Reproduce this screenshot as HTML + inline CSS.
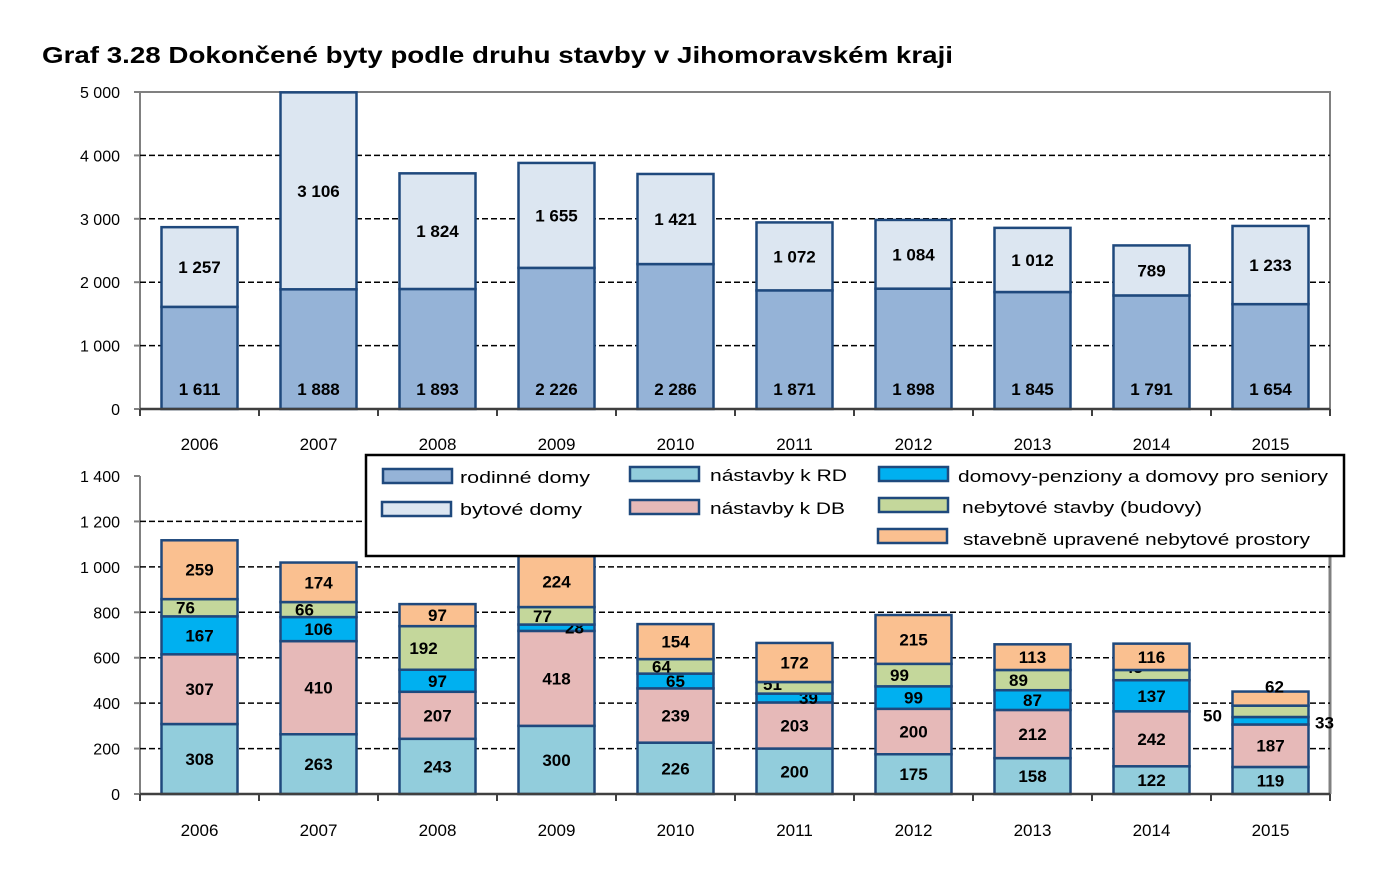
<!DOCTYPE html>
<html><head><meta charset="utf-8"><style>
body{margin:0;background:#fff;font-family:"Liberation Sans",Arial,sans-serif}
svg text{font-family:"Liberation Sans",Arial,sans-serif}
</style></head><body>
<svg id="s" width="1390" height="866" xmlns="http://www.w3.org/2000/svg">
<text x="42" y="63" font-size="23" font-weight="bold" textLength="911" lengthAdjust="spacingAndGlyphs">Graf 3.28 Dokončené byty podle druhu stavby v Jihomoravském kraji</text>
</svg>
<script>
var s=document.getElementById('s'),h='';
function T(x,y,t,o){h+='<text x="'+x+'" y="'+y+'" '+(o||'')+'>'+t+'</text>';}
function fmt(n){n=String(n);return n.length>3?n.slice(0,-3)+' '+n.slice(-3):n;}
var L=140,R=1330,cw=119,bw=76,yrs=[2006,2007,2008,2009,2010,2011,2012,2013,2014,2015];
var ST='stroke="#1f497d" stroke-width="2.5"';
var y0=409,k=317/5000;
h+='<rect x="'+L+'" y="92" width="'+(R-L)+'" height="317" fill="none" stroke="#808080" stroke-width="2"/>';
for(var v=1000;v<=4000;v+=1000){var y=y0-v*k;h+='<line x1="'+L+'" x2="'+R+'" y1="'+y+'" y2="'+y+'" stroke="#000" stroke-dasharray="6,3" stroke-width="1.5"/>';}
for(var v=0;v<=5000;v+=1000){var y=y0-v*k;T(120,y+6,fmt(v),'font-size="16" text-anchor="end"');h+='<line x1="'+(L-6)+'" x2="'+L+'" y1="'+y+'" y2="'+y+'" stroke="#808080" stroke-width="2"/>';}
var rd=[1611,1888,1893,2226,2286,1871,1898,1845,1791,1654],bd=[1257,3106,1824,1655,1421,1072,1084,1012,789,1233];
for(var i=0;i<10;i++){var cx=L+cw*i+cw/2,x=cx-bw/2;
var y1=y0-rd[i]*k,y2=y1-bd[i]*k;
h+='<rect x="'+x+'" y="'+y1+'" width="'+bw+'" height="'+(rd[i]*k)+'" fill="#95b3d7" '+ST+'/>';
h+='<rect x="'+x+'" y="'+y2+'" width="'+bw+'" height="'+(bd[i]*k)+'" fill="#dce6f1" '+ST+'/>';
T(cx,395,fmt(rd[i]),'font-size="17" font-weight="bold" text-anchor="middle"');
T(cx,(y1+y2)/2+6,fmt(bd[i]),'font-size="17" font-weight="bold" text-anchor="middle"');
T(cx,450,yrs[i],'font-size="17" text-anchor="middle"');
h+='<line x1="'+(L+cw*i)+'" x2="'+(L+cw*i)+'" y1="409" y2="416" stroke="#404040" stroke-width="2"/>';}
h+='<line x1="'+L+'" x2="'+R+'" y1="409" y2="409" stroke="#404040" stroke-width="2.5"/><line x1="'+R+'" x2="'+R+'" y1="409" y2="416" stroke="#404040" stroke-width="2"/>';
y0=794;k=318/1400;
h+='<line x1="'+L+'" x2="'+L+'" y1="476" y2="794" stroke="#808080" stroke-width="2"/><line x1="'+R+'" x2="'+R+'" y1="476" y2="794" stroke="#808080" stroke-width="3"/>';
for(var v=200;v<=1200;v+=200){var y=y0-v*k;h+='<line x1="'+L+'" x2="'+R+'" y1="'+y+'" y2="'+y+'" stroke="#000" stroke-dasharray="6,3" stroke-width="1.5"/>';}
for(var v=0;v<=1400;v+=200){var y=y0-v*k;T(120,y+6,fmt(v),'font-size="16" text-anchor="end"');h+='<line x1="'+(L-6)+'" x2="'+L+'" y1="'+y+'" y2="'+y+'" stroke="#808080" stroke-width="2"/>';}
var D=[[308,307,167,76,259],[263,410,106,66,174],[243,207,97,192,97],[300,418,28,77,224],[226,239,65,64,154],[200,203,39,51,172],[175,200,99,99,215],[158,212,87,89,113],[122,242,137,45,116],[119,187,33,50,62]];
var C=['#92cddc','#e6b9b8','#00b0f0','#c4d79b','#fac090'];
var O={'3_2':[18,0],'5_3':[-22,-4],'5_2':[14,0],'8_3':[-18,-8],'9_4':[4,-12],'9_3':[-58,4],'9_2':[54,2]};
for(var i=0;i<10;i++){var cx=L+cw*i+cw/2,x=cx-bw/2,cum=0;
for(var j=0;j<5;j++){var v=D[i][j],yb=y0-cum*k,yt=y0-(cum+v)*k;cum+=v;
h+='<rect x="'+x+'" y="'+yt+'" width="'+bw+'" height="'+(v*k)+'" fill="'+C[j]+'" '+ST+'/>';
var dx=0,dy=0,o=O[i+'_'+j];if(o){dx=o[0];dy=o[1];}else if(j==3)dx=-14;
T(cx+dx,(yb+yt)/2+6+dy,v,'font-size="17" font-weight="bold" text-anchor="middle"');}
T(cx,836,yrs[i],'font-size="17" text-anchor="middle"');
h+='<line x1="'+(L+cw*i)+'" x2="'+(L+cw*i)+'" y1="794" y2="801" stroke="#404040" stroke-width="2"/>';}
h+='<line x1="'+L+'" x2="'+R+'" y1="794" y2="794" stroke="#404040" stroke-width="2.5"/><line x1="'+R+'" x2="'+R+'" y1="794" y2="801" stroke="#404040" stroke-width="2"/>';
h+='<rect x="366" y="455" width="978" height="101" fill="#fff" stroke="#000" stroke-width="2.5"/>';
function LG(x,y,c,tx,ty,t,w){h+='<rect x="'+x+'" y="'+y+'" width="69" height="14" fill="'+c+'" '+ST+'/>';T(tx,ty,t,'font-size="17" textLength="'+w+'" lengthAdjust="spacingAndGlyphs"');}
LG(383,469,'#95b3d7',460,483,'rodinné domy',130);LG(382,502,'#dce6f1',460,515,'bytové domy',122);
LG(630,467,'#92cddc',710,481,'nástavby k RD',137);LG(630,500,'#e6b9b8',710,514,'nástavby k DB',135);
LG(879,467,'#00b0f0',958,482,'domovy-penziony a domovy pro seniory',370);LG(879,498,'#c4d79b',962,513,'nebytové stavby (budovy)',240);
LG(878,529,'#fac090',963,545,'stavebně upravené nebytové prostory',347);
s.insertAdjacentHTML('beforeend',h);
</script>
</body></html>
